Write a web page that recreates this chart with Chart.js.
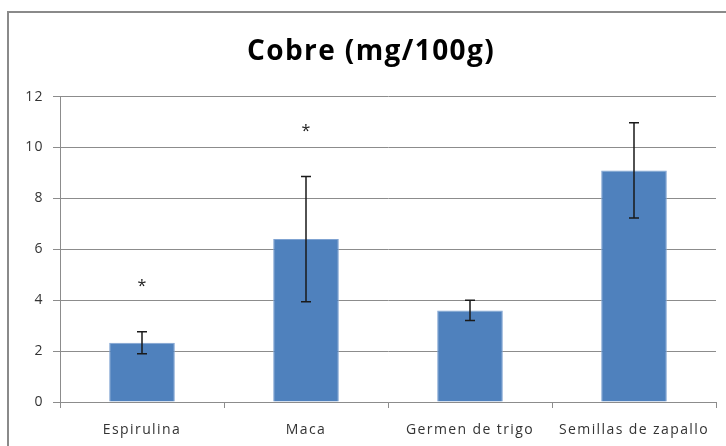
<!DOCTYPE html>
<html>
<head>
<meta charset="utf-8">
<script src="https://cdn.jsdelivr.net/npm/chart.js@4.4.0/dist/chart.umd.min.js"></script>
<style>
  html, body { margin: 0; padding: 0; background: #fff; width: 726px; height: 446px; overflow: hidden; }
  #frame { position: absolute; left: 7px; top: 11px; width: 800px; height: 500px; border-left: 2px solid #8a8a8a; border-top: 2px solid #8a8a8a; }
  #wrap { position: absolute; left: 0; top: 0; width: 726px; height: 446px; }
</style>
</head>
<body>
<div id="frame"></div>
<div id="wrap"><canvas id="c" width="726" height="446"></canvas></div>
<script>
const categories = ["Espirulina", "Maca", "Germen de trigo", "Semillas de zapallo"];
const values = [2.33, 6.4, 3.6, 9.1];
const errors = [0.43, 2.46, 0.4, 1.87];
const asteriskPositions = [4.65, 10.75, null, null];
const yTicks = [0, 2, 4, 6, 8, 10, 12];
const titleText = "Cobre (mg/100g)";

const FONT = "'Open Sans', 'Noto Sans', sans-serif";
const GRID = "#8c8c8c";

const spacing = {
  id: 'spacing',
  beforeDraw(chart) { chart.ctx.letterSpacing = '1.4px'; },
  afterDraw(chart) { chart.ctx.letterSpacing = '0px'; }
};

const errorBars = {
  id: 'errorBars',
  afterDatasetsDraw(chart) {
    const ctx = chart.ctx;
    const meta = chart.getDatasetMeta(0);
    const y = chart.scales.y;
    ctx.save();
    ctx.strokeStyle = "#1a1a1a";
    ctx.lineWidth = 1.5;
    meta.data.forEach((bar, i) => {
      const x = bar.x;
      const yt = y.getPixelForValue(values[i] + errors[i]);
      const yb = y.getPixelForValue(values[i] - errors[i]);
      ctx.beginPath();
      ctx.moveTo(x, yt); ctx.lineTo(x, yb);
      ctx.moveTo(x - 5, yt); ctx.lineTo(x + 5, yt);
      ctx.moveTo(x - 5, yb); ctx.lineTo(x + 5, yb);
      ctx.stroke();
    });
    ctx.letterSpacing = '0px';
    ctx.fillStyle = "#1a1a1a";
    ctx.font = "16px " + FONT;
    ctx.textAlign = "center";
    ctx.textBaseline = "middle";
    meta.data.forEach((bar, i) => {
      const v = asteriskPositions[i];
      if (v === null) return;
      ctx.fillText("*", bar.x, y.getPixelForValue(v) + 3);
    });
    ctx.restore();
  }
};

new Chart(document.getElementById('c'), {
  type: 'bar',
  data: {
    labels: categories,
    datasets: [{
      data: values,
      backgroundColor: "#4F81BD",
      borderColor: "#7FA3D2",
      borderWidth: 1,
      barPercentage: 0.4,
      categoryPercentage: 1.0
    }]
  },
  options: {
    responsive: false,
    animation: false,
    events: [],
    layout: { padding: { left: 26, right: 10, top: 0, bottom: 0 } },
    plugins: {
      legend: { display: false },
      tooltip: { enabled: false },
      title: {
        display: true,
        text: titleText,
        color: "#000",
        font: { family: FONT, size: 28, weight: 'bold', lineHeight: 1.2 },
        padding: { top: 35, bottom: 28 }
      }
    },
    scales: {
      x: {
        grid: { drawOnChartArea: false, drawTicks: true, tickLength: 6, color: GRID, offset: true },
        border: { color: GRID, width: 1 },
        ticks: { color: "#333333", font: { family: FONT, size: 14 }, padding: 14, maxRotation: 0, autoSkip: false },
        afterFit(scale) { scale.height = 44; }
      },
      y: {
        min: 0, max: 12,
        afterBuildTicks(scale) { scale.ticks = yTicks.map(v => ({ value: v })); },
        grid: { color: GRID, tickLength: 7, lineWidth: 1 },
        border: { color: GRID, width: 1 },
        ticks: { color: "#333333", font: { family: FONT, size: 14 }, padding: 9 },
        afterFit(scale) { scale.width = 34; }
      }
    }
  },
  plugins: [spacing, errorBars]
});
</script>
</body>
</html>
